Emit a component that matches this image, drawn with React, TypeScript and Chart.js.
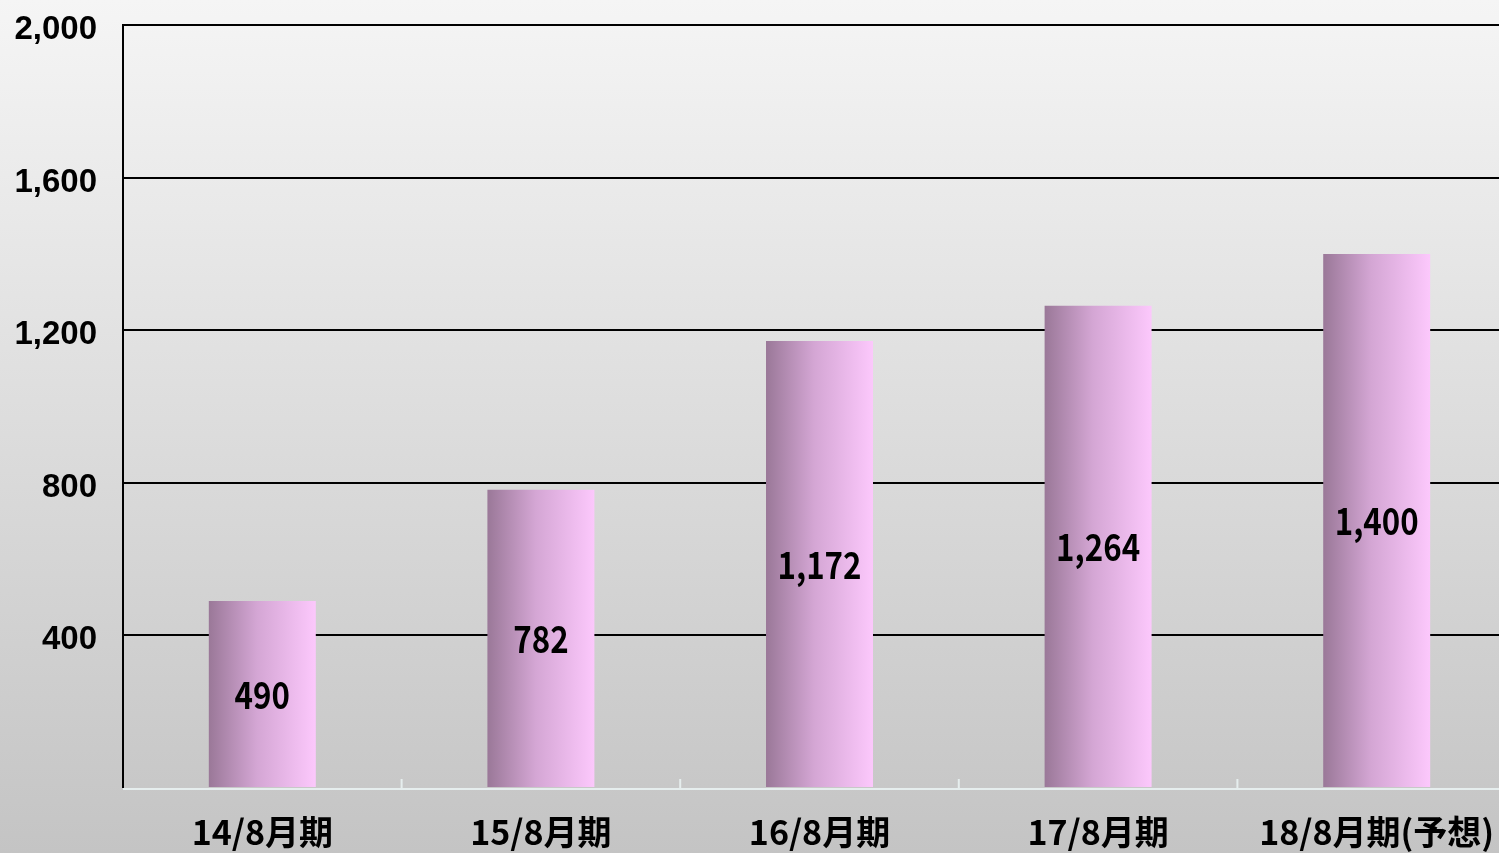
import React, { useEffect, useRef } from "react";
import { Chart, registerables } from "chart.js";

Chart.register(...registerables);

const categories = ["14/8月期", "15/8月期", "16/8月期", "17/8月期", "18/8月期(予想)"];
const values = [490, 782, 1172, 1264, 1400];
const yTicks = [0, 400, 800, 1200, 1600, 2000];

const CANVAS_W = 1516;
const CANVAS_H = 853;

const bgPlugin = {
  id: "bgGradient",
  beforeDraw(chart: any) {
    const { ctx, width, height } = chart;
    const g = ctx.createLinearGradient(0, 0, 0, height);
    g.addColorStop(0, "#f5f5f5");
    g.addColorStop(1, "#c4c4c4");
    ctx.save();
    ctx.fillStyle = g;
    ctx.fillRect(0, 0, width, height);
    ctx.restore();
  },
};

const decorPlugin = {
  id: "decor",
  afterDraw(chart: any) {
    const { ctx, chartArea } = chart;
    const x = chart.scales.x;
    const y = chart.scales.y;
    const n = categories.length;
    const step = (chartArea.right - chartArea.left) / n;
    ctx.save();
    ctx.strokeStyle = "#e6eeee";
    ctx.lineWidth = 2;
    ctx.beginPath();
    ctx.moveTo(chartArea.left, chartArea.bottom + 1);
    ctx.lineTo(chartArea.right, chartArea.bottom + 1);
    ctx.stroke();
    for (let i = 0; i < n; i++) {
      const px = x.getPixelForValue(i) - step / 2;
      ctx.beginPath();
      ctx.moveTo(px, chartArea.bottom);
      ctx.lineTo(px, chartArea.bottom - 9);
      ctx.stroke();
    }
    ctx.strokeStyle = "#000";
    ctx.lineWidth = 2;
    ctx.beginPath();
    ctx.moveTo(chartArea.left, chartArea.top - 1);
    ctx.lineTo(chartArea.left, chartArea.bottom);
    ctx.stroke();
    ctx.fillStyle = "#000";
    ctx.font = 'bold 34px "Noto Sans CJK JP", sans-serif';
    ctx.textAlign = "center";
    ctx.textBaseline = "middle";
    values.forEach((v, i) => {
      const cx = x.getPixelForValue(i);
      const cy = (y.getPixelForValue(v) + y.getPixelForValue(0)) / 2;
      ctx.save();
      ctx.translate(cx, cy);
      ctx.scale(0.92, 1.1);
      ctx.fillText(v.toLocaleString("en-US"), 0, 0);
      ctx.restore();
    });
    ctx.restore();
  },
};

export default function App() {
  const ref = useRef<HTMLCanvasElement>(null);
  useEffect(() => {
    document.body.style.margin = "0";
    const canvas = ref.current!;
    const chart = new Chart(canvas, {
      type: "bar",
      data: {
        labels: categories,
        datasets: [
          {
            data: values,
            barPercentage: 0.384,
            categoryPercentage: 1,
            borderWidth: 0,
            backgroundColor: (c: any) => {
              const ch = c.chart;
              const area = ch.chartArea;
              const xs = ch.scales?.x;
              if (!area || !xs) return "#d8a8d8";
              const step = (area.right - area.left) / categories.length;
              const w = step * 0.384;
              const cx = xs.getPixelForValue(c.dataIndex);
              const g = ch.ctx.createLinearGradient(cx - w / 2, 0, cx + w / 2, 0);
              g.addColorStop(0, "#9a7898");
              g.addColorStop(0.45, "#d4a6d4");
              g.addColorStop(1, "#fcc8fc");
              return g;
            },
          },
        ],
      },
      options: {
        animation: false,
        responsive: false,
        maintainAspectRatio: false,
        layout: { padding: { top: 25, left: 0, right: 0, bottom: 0 } },
        plugins: { legend: { display: false }, tooltip: { enabled: false } },
        scales: {
          x: {
            offset: true,
            grid: { display: false, drawTicks: false },
            border: { display: false },
            ticks: {
              color: "#000",
              padding: 24,
              maxRotation: 0,
              autoSkip: false,
              font: { family: '"Noto Sans CJK JP", sans-serif', size: 34, weight: "bold" },
            },
            afterFit: (s: any) => {
              s.height = 65;
              s.paddingLeft = 0;
              s.paddingRight = 0;
            },
          },
          y: {
            min: 0,
            max: 2000,
            afterBuildTicks: (s: any) => {
              s.ticks = yTicks.map((v) => ({ value: v }));
            },
            grid: {
              drawTicks: false,
              lineWidth: 2,
              color: (c: any) => (c.tick && c.tick.value === 0 ? "rgba(0,0,0,0)" : "#000"),
            },
            border: { display: false },
            ticks: {
              color: "#000",
              padding: 26,
              labelOffset: 5,
              font: { family: '"Liberation Sans", Arial, sans-serif', size: 33, weight: "bold" },
              callback: (v: any) => (v === 0 ? "" : Number(v).toLocaleString("en-US")),
            },
            afterFit: (s: any) => {
              s.width = 123;
              s.paddingTop = 0;
              s.paddingBottom = 0;
            },
          },
        },
      },
      plugins: [bgPlugin, decorPlugin],
    });
    return () => chart.destroy();
  }, []);
  return (
    <div style={{ width: 1499, height: 853, overflow: "hidden", position: "relative" }}>
      <canvas ref={ref} width={CANVAS_W} height={CANVAS_H} style={{ display: "block" }} />
    </div>
  );
}
